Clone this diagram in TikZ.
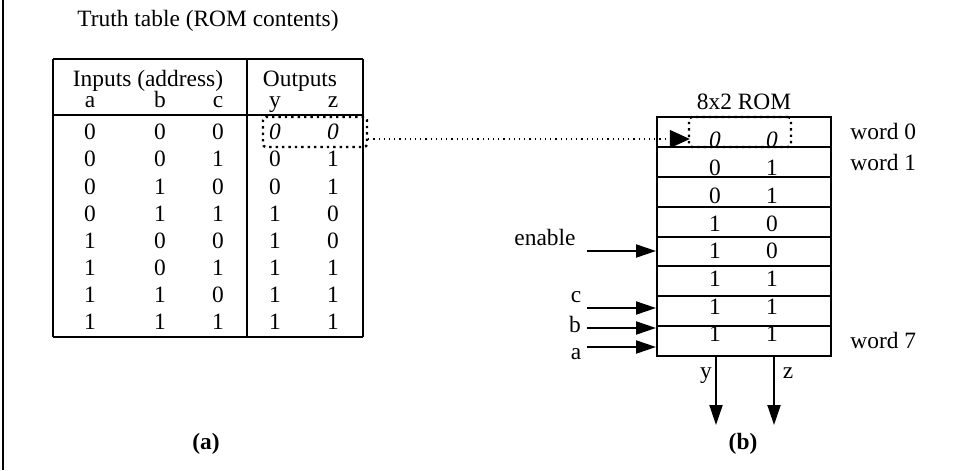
\documentclass[tikz,border=0pt]{standalone}
\usepackage{fontspec}
\setmainfont{Liberation Serif}
\usetikzlibrary{arrows.meta}
\usetikzlibrary{positioning}

\begin{document}
\begin{tikzpicture}[x=0.5pt, y=-0.5pt,
    font=\fontsize{11.7}{14}\selectfont,
    txt/.style={inner sep=0pt, anchor=base},
    sig/.style={-{Triangle[length=10pt,width=6.5pt]}, line width=1pt},
    hilite/.style={draw, dotted, line width=1.2pt, rounded corners=1.5pt, inner sep=0pt}]
  \useasboundingbox (0,0) rectangle (961,470);
  \draw[line width=0.7pt] (3,0) -- (3,470);

  % (a) truth table
  \node[txt] (title) at (208,27) {Truth table (ROM contents)};
  \draw[line width=0.75pt] (53,59) -- (363,59) (53,115) -- (363,115) (53,337) -- (363,337)
    (53,59) -- (53,337) (247,59) -- (247,337) (363,59) -- (363,337);
  \node[txt] (hin) at (148,87) {Inputs (address)};
  \node[txt] (hout) at (300,87) {Outputs};
  \foreach \n/\x in {a/90,b/160,c/218,y/275,z/333}
    \node[txt] (h\n) at (\x,108) {\n};
  \foreach \a/\b/\c/\y/\z [count=\i from 0] in
      {0/0/0/\textit{0}/\textit{0},0/0/1/0/1,0/1/0/0/1,0/1/1/1/0,
       1/0/0/1/0,1/0/1/1/1,1/1/0/1/1,1/1/1/1/1} {
    \node[txt] (a\i) at (90,140+27*\i) {\a};
    \node[txt] (b\i) at (160,140+27*\i) {\b};
    \node[txt] (c\i) at (218,140+27*\i) {\c};
    \node[txt] (y\i) at (275,140+27*\i) {\y};
    \node[txt] (z\i) at (333,140+27*\i) {\z};
  }
  \node[hilite, minimum width=52pt, minimum height=15pt] (sel) at (315,132) {};
  \node[txt, font=\fontsize{11.7}{14}\selectfont\bfseries] (capa) at (206,449) {(a)};

  % (b) the ROM
  \node[draw, line width=1pt, minimum width=87pt, minimum height=119.5pt, inner sep=0pt]
    (rom) at (744,236.5) {};
  \node[txt] (romname) at (744,110) {8x2 ROM};
  \foreach \i in {1,...,7}
    \draw[line width=1pt] (rom.west |- 0,{117+29.875*\i}) -- (rom.east |- 0,{117+29.875*\i});
  \foreach \y/\z [count=\i from 0] in
      {\textit{0}/\textit{0},0/1,0/1,1/0,1/0,1/1,1/1,1/1} {
    \node[txt] (wy\i) at (715,148+27.7*\i) {\y};
    \node[txt] (wz\i) at (772,148+27.7*\i) {\z};
  }
  \node[hilite, minimum width=51pt, minimum height=15pt] (hit) at (740,132) {};
  \node[txt, anchor=base west] (w0) at (850,140) {word 0};
  \node[txt, anchor=base west] (w1) at (850,170) {word 1};
  \node[txt, anchor=base west] (w7) at (850,348) {word 7};

  \draw[dotted, line width=0.6pt, -{Triangle[length=10pt,width=9pt,fill=black]}]
    ([yshift=-3.5pt]sel.east) -- ([yshift=-3.5pt,xshift=1pt]hit.west);

  % inputs
  \node[txt] (lenable) at (545,245) {enable};
  \node[txt] (lc) at (576,302) {c};
  \node[txt] (lb) at (575,332) {b};
  \node[txt] (la) at (576,359) {a};
  \coordinate (ien) at (587,251);
  \coordinate (ic) at (587,308);
  \coordinate (ib) at (587,328);
  \coordinate (ia) at (587,347);
  \foreach \s in {ien,ic,ib,ia}
    \draw[sig] (\s) -- (\s -| rom.west);

  % outputs
  \coordinate (oy) at (716,425);
  \coordinate (oz) at (774,425);
  \draw[sig] (oy |- rom.south) -- (oy);
  \draw[sig] (oz |- rom.south) -- (oz);
  \node[txt] (ly) at (706,378) {y};
  \node[txt] (lz) at (788,378) {z};
  \node[txt, font=\fontsize{11.7}{14}\selectfont\bfseries] (capb) at (743,449) {(b)};
\end{tikzpicture}
\end{document}
